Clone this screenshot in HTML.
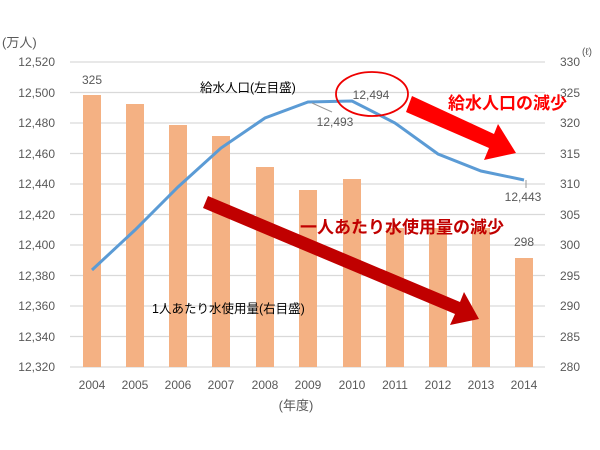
<!DOCTYPE html>
<html><head><meta charset="utf-8"><style>
body{margin:0;background:#fff;}
svg{display:block;font-family:"Liberation Sans","Noto Sans CJK JP",sans-serif;}
</style></head><body>
<svg width="600" height="450" viewBox="0 0 600 450">
<g stroke="#d9d9d9" stroke-width="1.3">
<line x1="70" x2="545" y1="62" y2="62"/><line x1="70" x2="545" y1="92.5" y2="92.5"/>
<line x1="70" x2="545" y1="123" y2="123"/><line x1="70" x2="545" y1="153.5" y2="153.5"/>
<line x1="70" x2="545" y1="184" y2="184"/><line x1="70" x2="545" y1="214.5" y2="214.5"/>
<line x1="70" x2="545" y1="245" y2="245"/><line x1="70" x2="545" y1="275.5" y2="275.5"/>
<line x1="70" x2="545" y1="306" y2="306"/><line x1="70" x2="545" y1="336.5" y2="336.5"/>
<line x1="70" x2="545" y1="367" y2="367"/>
</g>
<g fill="#f4b183">
<rect x="83" y="95" width="18" height="272"/>
<rect x="126" y="104" width="18" height="263"/>
<rect x="169" y="125" width="18" height="242"/>
<rect x="212" y="136" width="18" height="231"/>
<rect x="256" y="167" width="18" height="200"/>
<rect x="299" y="190" width="18" height="177"/>
<rect x="343" y="179" width="18" height="188"/>
<rect x="386" y="228" width="18" height="139"/>
<rect x="429" y="228" width="18" height="139"/>
<rect x="472" y="228" width="18" height="139"/>
<rect x="515" y="258" width="18" height="109"/>
</g>
<polyline fill="none" stroke="#5b9bd5" stroke-width="3" points="92,270 135,230 178,187 221,148 265,118 308,102 352,101 395,123 438,154 481,171 524,180"/>
<line x1="312" y1="103" x2="332" y2="112" stroke="#999" stroke-width="1"/>
<line x1="526" y1="180" x2="526" y2="188" stroke="#999" stroke-width="1"/>
<g font-size="12" fill="#595959" text-anchor="end">
<text x="55" y="66">12,520</text><text x="55" y="97">12,500</text><text x="55" y="127">12,480</text>
<text x="55" y="158">12,460</text><text x="55" y="188">12,440</text><text x="55" y="219">12,420</text>
<text x="55" y="249">12,400</text><text x="55" y="280">12,380</text><text x="55" y="310">12,360</text>
<text x="55" y="341">12,340</text><text x="55" y="371">12,320</text>
</g>
<g font-size="12" fill="#595959">
<text x="560" y="66">330</text><text x="560" y="97">325</text><text x="560" y="127">320</text>
<text x="560" y="158">315</text><text x="560" y="188">310</text><text x="560" y="219">305</text>
<text x="560" y="249">300</text><text x="560" y="280">295</text><text x="560" y="310">290</text>
<text x="560" y="341">285</text><text x="560" y="371">280</text>
<text x="582" y="55" font-size="10">(ℓ)</text>
<text x="2" y="47" font-size="13">(万人)</text>
</g>
<g font-size="12" fill="#595959" text-anchor="middle">
<text x="92" y="389">2004</text><text x="135" y="389">2005</text><text x="178" y="389">2006</text>
<text x="221" y="389">2007</text><text x="265" y="389">2008</text><text x="308" y="389">2009</text>
<text x="352" y="389">2010</text><text x="395" y="389">2011</text><text x="438" y="389">2012</text>
<text x="481" y="389">2013</text><text x="524" y="389">2014</text>
<text x="296" y="410" font-size="13">(年度)</text>
<text x="92" y="84">325</text><text x="524" y="246">298</text>
<text x="523" y="201">12,443</text><text x="335" y="126">12,493</text><text x="371" y="99">12,494</text>
</g>
<text x="200" y="92" font-size="12.5" fill="#000">給水人口(左目盛)</text>
<text x="152" y="313" font-size="12.5" fill="#000">1人あたり水使用量(右目盛)</text>
<ellipse cx="372" cy="94" rx="36" ry="22" fill="none" stroke="#e00" stroke-width="1.8"/>
<polygon points="208,196 460,302 464,292 479,319 450,325 455,314 203,208" fill="#c00000"/>
<polygon points="412,96 494,134 498,124 516,153 484,160 489,148 406,112" fill="#ff0000"/>
<text x="300" y="233" font-size="17" font-weight="bold" fill="#c00000">一人あたり水使用量の減少</text>
<text x="448" y="109" font-size="17" font-weight="bold" fill="#ff0000">給水人口の減少</text>
</svg>
</body></html>
